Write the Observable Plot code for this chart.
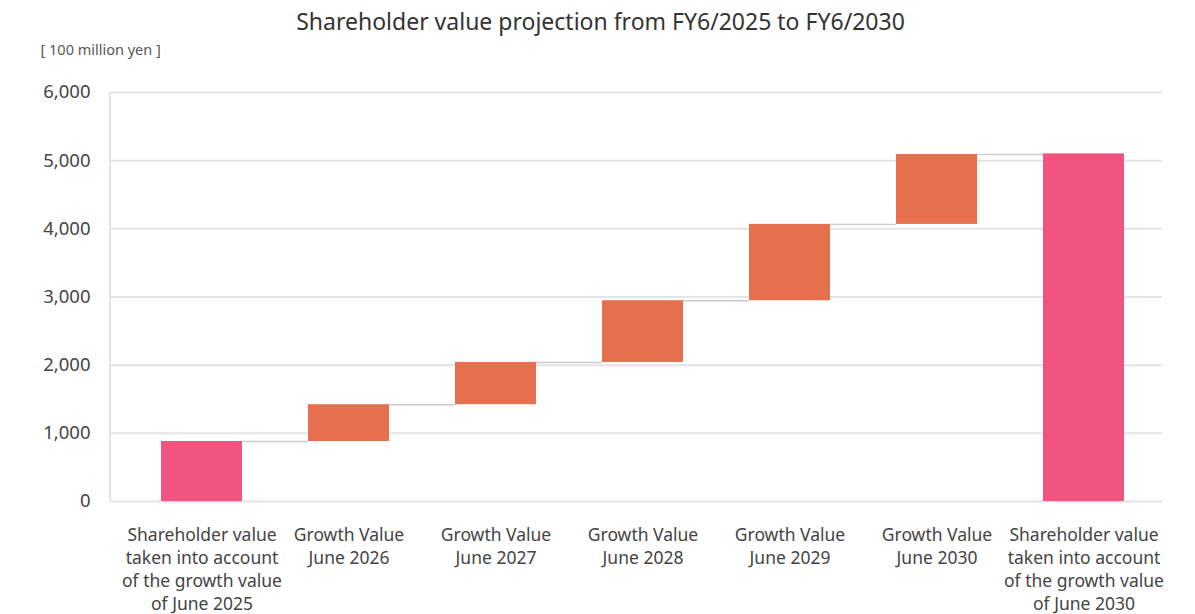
<!DOCTYPE html>
<html>
<head>
<meta charset="utf-8">
<script src="https://cdn.jsdelivr.net/npm/d3@7"></script>
<script src="https://cdn.jsdelivr.net/npm/@observablehq/plot@0.6"></script>
<style>
  body { margin: 0; background: #fff; }
  #chart svg { display: block; }
</style>
</head>
<body>
<div id="chart"></div>
<script>
const categories = [
  "Shareholder value\ntaken into account\nof the growth value\nof June 2025",
  "Growth Value\nJune 2026",
  "Growth Value\nJune 2027",
  "Growth Value\nJune 2028",
  "Growth Value\nJune 2029",
  "Growth Value\nJune 2030",
  "Shareholder value\ntaken into account\nof the growth value\nof June 2030"
];
const startValue = 880;
const growthValues = [540, 620, 905, 1120, 1025];
const endValue = 5100;
const yTicks = [0, 1000, 2000, 3000, 4000, 5000, 6000];
const title = "Shareholder value projection from FY6/2025 to FY6/2030";
const unitLabel = "[ 100 million yen ]";

// build waterfall table
const rows = [];
rows.push({cat: categories[0], y1: 0, y2: startValue, kind: "total"});
let cum = startValue;
growthValues.forEach((v, i) => {
  rows.push({cat: categories[i + 1], y1: cum, y2: cum + v, kind: "growth"});
  cum += v;
});
rows.push({cat: categories[6], y1: 0, y2: endValue, kind: "total"});

const connectors = rows.slice(0, -1).map((r, i) => ({
  from: r.cat, to: rows[i + 1].cat, y: r.y2
}));

const W = 1195, H = 614;
const xOpts = {type: "band", domain: categories, range: [128, 1157], paddingInner: 0.45, paddingOuter: 0.225};
const bw = Plot.scale({x: xOpts}).bandwidth;

const font = "'Noto Sans', sans-serif";

const chart = Plot.plot({
  width: W,
  height: H,
  marginLeft: 110,
  marginRight: 33,
  marginTop: 92,
  marginBottom: 113,
  style: {fontFamily: font, background: "#fff"},
  x: {...xOpts, label: null},
  y: {domain: [0, 6000], label: null},
  color: {domain: ["total", "growth"], range: ["#F0547F", "#E6704E"]},
  marks: [
    Plot.ruleY(yTicks, {stroke: "#e4e4e4", strokeWidth: 2}),
    (index, scales, values, dims) => {
      const g = d3.create("svg:g");
      g.append("line")
        .attr("x1", dims.marginLeft).attr("x2", dims.marginLeft)
        .attr("y1", scales.y(6000)).attr("y2", scales.y(0))
        .attr("stroke", "#e4e4e4").attr("stroke-width", 2);
      return g.node();
    },
    Plot.ruleY(connectors, {
      x1: "from", x2: "to", y: "y",
      insetLeft: bw, insetRight: bw,
      stroke: "#cccccc", strokeWidth: 1.5
    }),
    Plot.barY(rows, {x: "cat", y1: "y1", y2: "y2", fill: "kind"}),
    Plot.axisY({
      ticks: yTicks, tickSize: 0, tickPadding: 20,
      tickFormat: d3.format(","), fontSize: 18.5, fill: "#444", label: null
    }),
    Plot.axisX({
      tickSize: 0, tickPadding: 23, fontSize: 17.5, lineHeight: 1.31,
      fill: "#444", label: null
    }),
    Plot.text([title], {
      frameAnchor: "top", dx: -36, dy: -79,
      fontSize: 23, fill: "#333", text: d => d
    }),
    Plot.text([unitLabel], {
      frameAnchor: "top-left", dx: -70, dy: -48, textAnchor: "start",
      fontSize: 14.5, fill: "#555", text: d => d
    })
  ]
});

document.getElementById("chart").appendChild(chart);
</script>
</body>
</html>
